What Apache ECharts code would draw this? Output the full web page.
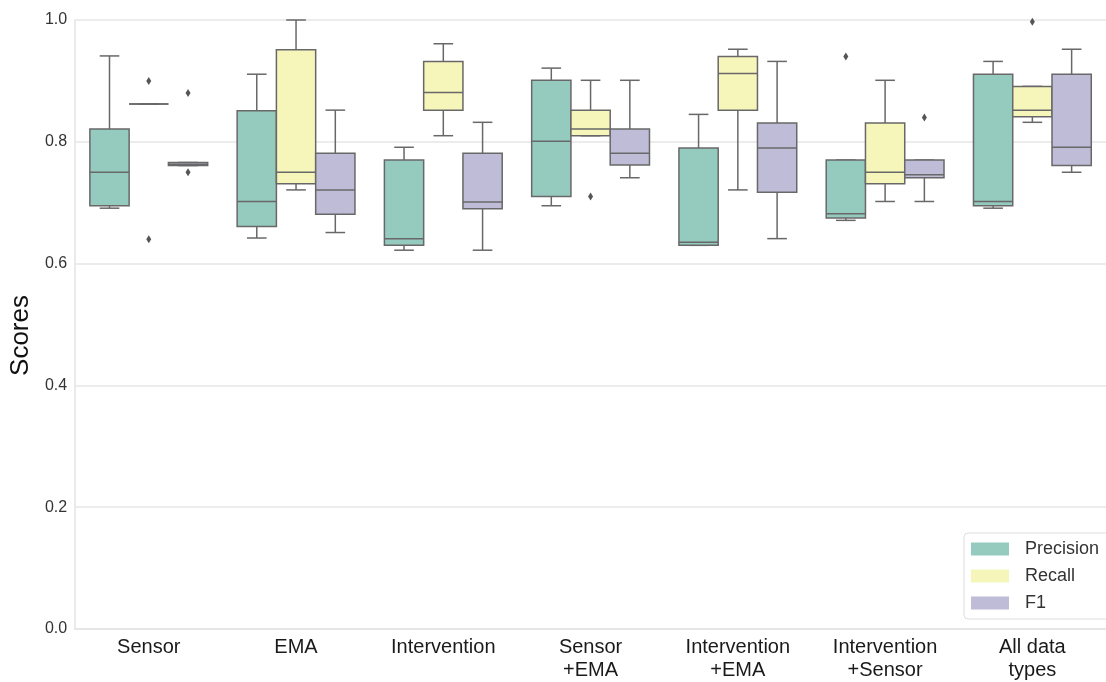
<!DOCTYPE html>
<html>
<head>
<meta charset="utf-8">
<script src="https://cdn.jsdelivr.net/npm/echarts@6/dist/echarts.min.js"></script>
<style>
  html, body { margin: 0; padding: 0; background: #fff; }
  #chart { width: 1106px; height: 682px; }
</style>
</head>
<body>
<div id="chart"></div>
<script>
// Feature-set groups on the x axis
const categories = ['Sensor', 'EMA', 'Intervention', 'Sensor\n+EMA', 'Intervention\n+EMA', 'Intervention\n+Sensor', 'All data\ntypes'];
const metrics = ['Precision', 'Recall', 'F1'];
const yTicks = [0, 0.2, 0.4, 0.6, 0.8, 1.0];

// Box statistics per group: [lowWhisker, Q1, median, Q3, highWhisker]
const precisionBoxes = [
  [0.691, 0.695, 0.750, 0.821, 0.941],
  [0.642, 0.661, 0.702, 0.851, 0.911],
  [0.622, 0.630, 0.641, 0.770, 0.791],
  [0.695, 0.710, 0.801, 0.901, 0.921],
  [0.630, 0.630, 0.635, 0.790, 0.845],
  [0.671, 0.675, 0.682, 0.770, 0.770],
  [0.691, 0.695, 0.702, 0.911, 0.932]
];
const recallBoxes = [
  [0.862, 0.862, 0.862, 0.862, 0.862],
  [0.721, 0.731, 0.750, 0.951, 1.000],
  [0.810, 0.852, 0.881, 0.932, 0.961],
  [0.810, 0.810, 0.821, 0.852, 0.901],
  [0.721, 0.852, 0.912, 0.940, 0.952],
  [0.702, 0.731, 0.750, 0.831, 0.901],
  [0.832, 0.841, 0.852, 0.891, 0.891]
];
const f1Boxes = [
  [0.761, 0.761, 0.763, 0.766, 0.766],
  [0.651, 0.681, 0.721, 0.781, 0.852],
  [0.622, 0.690, 0.701, 0.781, 0.832],
  [0.741, 0.762, 0.781, 0.821, 0.901],
  [0.641, 0.717, 0.790, 0.831, 0.932],
  [0.702, 0.741, 0.746, 0.770, 0.770],
  [0.750, 0.761, 0.791, 0.911, 0.952]
];

// Outlying points: [groupIndex, metricIndex, value]
const outliers = [
  [0, 1, 0.900], [0, 1, 0.640],
  [0, 2, 0.880], [0, 2, 0.750],
  [3, 1, 0.710],
  [5, 0, 0.940],
  [5, 2, 0.840],
  [6, 1, 0.997]
];

const fillColors = ['#95cabe', '#f6f6bb', '#bfbcd8'];
const edgeColor = '#686868';
const fontFamily = 'Liberation Sans, Arial, sans-serif';

function boxRenderer(metricIndex) {
  return function (params, api) {
    const cat = api.value(0);
    const band = api.size([1, 0])[0];
    const bw = band * 0.8 / 3;
    const cx = api.coord([cat, 0])[0] + (metricIndex - 1) * bw;
    const y = v => api.coord([cat, v])[1];
    const low = y(api.value(1)), q1 = y(api.value(2)), med = y(api.value(3));
    const q3 = y(api.value(4)), high = y(api.value(5));
    const half = bw / 2, cap = bw / 4;
    const line = { stroke: edgeColor, lineWidth: 1.5 };
    return {
      type: 'group',
      children: [
        { type: 'line', shape: { x1: cx, y1: q3, x2: cx, y2: high }, style: line },
        { type: 'line', shape: { x1: cx, y1: q1, x2: cx, y2: low }, style: line },
        { type: 'line', shape: { x1: cx - cap, y1: high, x2: cx + cap, y2: high }, style: line },
        { type: 'line', shape: { x1: cx - cap, y1: low, x2: cx + cap, y2: low }, style: line },
        { type: 'rect', shape: { x: cx - half, y: q3, width: bw, height: Math.max(q1 - q3, 0) },
          style: { fill: fillColors[metricIndex], stroke: edgeColor, lineWidth: 1.5 } },
        { type: 'line', shape: { x1: cx - half, y1: med, x2: cx + half, y2: med }, style: line }
      ]
    };
  };
}

function outlierRenderer(params, api) {
  const cat = api.value(0);
  const m = api.value(1);
  const band = api.size([1, 0])[0];
  const bw = band * 0.8 / 3;
  const p = api.coord([cat, api.value(2)]);
  const cx = p[0] + (m - 1) * bw;
  const cy = p[1];
  return {
    type: 'polygon',
    shape: { points: [[cx, cy - 4], [cx + 2.5, cy], [cx, cy + 4], [cx - 2.5, cy]] },
    style: { fill: '#555' }
  };
}

function boxData(rows) {
  return rows.map((r, i) => [i].concat(r));
}

const boxSets = [precisionBoxes, recallBoxes, f1Boxes];
const series = metrics.map((name, k) => ({
  name: name,
  type: 'custom',
  renderItem: boxRenderer(k),
  itemStyle: { color: fillColors[k] },
  encode: { x: 0, y: [1, 2, 3, 4, 5] },
  data: boxData(boxSets[k]),
  z: 2
}));
series.push({
  name: 'outliers',
  type: 'custom',
  renderItem: outlierRenderer,
  encode: { x: 0, y: 2 },
  data: outliers,
  z: 3
});

const chart = echarts.init(document.getElementById('chart'));
chart.setOption({
  backgroundColor: '#ffffff',
  animation: false,
  grid: { left: 75, top: 20, width: 1042, height: 610, containLabel: false },
  xAxis: {
    type: 'category',
    data: categories,
    boundaryGap: true,
    axisLine: { show: true, lineStyle: { color: '#e3e3e3', width: 1.5 } },
    axisTick: { show: false },
    axisLabel: { color: '#1a1a1a', fontSize: 20, fontFamily: fontFamily, lineHeight: 23, margin: 7 },
    splitLine: { show: false }
  },
  yAxis: {
    type: 'value',
    min: 0,
    max: 1,
    interval: 0.2,
    name: 'Scores',
    nameLocation: 'middle',
    nameGap: 38,
    nameTextStyle: { color: '#111', fontSize: 26, fontFamily: fontFamily, padding: [0, 22, 0, 0] },
    axisLine: { show: true, lineStyle: { color: '#e3e3e3', width: 1.5 } },
    axisTick: { show: false },
    axisLabel: {
      color: '#333', fontSize: 16, fontFamily: fontFamily, margin: 8,
      customValues: yTicks,
      formatter: v => v.toFixed(1)
    },
    splitLine: { show: true, lineStyle: { color: '#e6e6e6', width: 1.5 } }
  },
  legend: {
    data: metrics,
    orient: 'vertical',
    left: 964,
    top: 533,
    icon: 'rect',
    itemWidth: 38,
    itemHeight: 13,
    itemGap: 9,
    padding: [7, 40, 7, 7],
    borderColor: '#dddddd',
    borderWidth: 1,
    borderRadius: 4,
    textStyle: { color: '#333', fontSize: 18, lineHeight: 18, fontFamily: fontFamily, padding: [0, 0, 0, 11] }
  },
  series: series
});
</script>
</body>
</html>
